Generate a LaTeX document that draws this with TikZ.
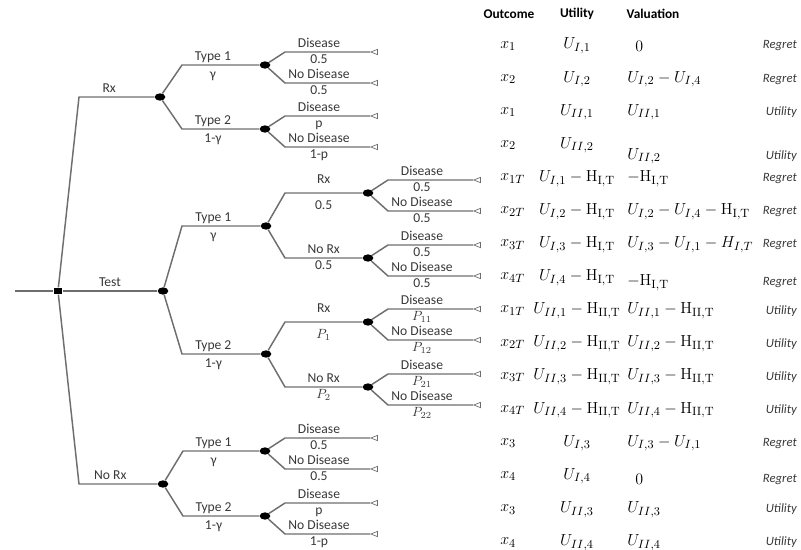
\documentclass[tikz,border=0pt]{standalone}
\usepackage[no-math]{fontspec}
\setmainfont{Carlito}
\usetikzlibrary{shapes.geometric}

\definecolor{branchgray}{HTML}{6E6E6E}
\definecolor{labelgray}{HTML}{383838}
\newcommand{\hcostI}{\mathrm{H}_{\mathrm{I,T}}}
\newcommand{\hcostII}{\mathrm{H}_{\mathrm{II,T}}}

\begin{document}
\begin{tikzpicture}[x=0.75pt,y=-0.75pt,
  br/.style={draw=branchgray,line width=1.1pt},
  chance/.style={ellipse,fill=black,minimum width=8pt,minimum height=5.5pt,inner sep=0pt},
  decision/.style={rectangle,fill=black,minimum width=6.5pt,minimum height=5pt,inner sep=0pt},
  leaf/.style={isosceles triangle,isosceles triangle stretches,shape border rotate=180,
    draw=branchgray,fill=white,line width=0.5pt,minimum height=5pt,minimum width=4pt,
    inner sep=0pt,anchor=apex},
  lab/.style={font=\fontsize{10.2}{12}\selectfont,text=labelgray,inner sep=0.3pt,
    text height=6.8pt,text depth=1.9pt,pos=0.4},
  up/.style={lab,above=0.6pt},
  dn/.style={lab,below=0.6pt},
  head/.style={font=\fontsize{10}{12}\selectfont\bfseries,text=black},
  outc/.style={anchor=west,font=\fontsize{12.6}{15}\selectfont,inner sep=0pt},
  utilc/.style={font=\fontsize{12.6}{15}\selectfont,inner sep=0pt},
  valc/.style={anchor=west,font=\fontsize{12.6}{15}\selectfont,inner sep=0pt},
  kindc/.style={anchor=east,font=\fontsize{9.5}{11}\selectfont\itshape,text=labelgray,inner sep=0pt}]
\useasboundingbox (0,0) rectangle (801,550);

\coordinate (start) at (15,291);
\node[decision] (root) at (58,291) {};
\node[chance] (rx) at (160,97) {};
\node[chance] (test) at (163,291) {};
\node[chance] (norx) at (163,484) {};
\node[chance] (rx1) at (265,65) {};
\node[chance] (rx2) at (265,129) {};
\node[chance] (t1) at (266,226) {};
\node[chance] (t2) at (266,354) {};
\node[chance] (t1a) at (368,193) {};
\node[chance] (t1b) at (368,258) {};
\node[chance] (t2a) at (368,322) {};
\node[chance] (t2b) at (368,387) {};
\node[chance] (n1) at (265,451) {};
\node[chance] (n2) at (265,516) {};

\draw[br] (start) -- (root);
\draw[br] (root) -- ++(21,-194) -- (rx) node[up]{Rx};
\draw[br] (root) -- (test) node[up,pos=0.5]{Test};
\draw[br] (root) -- ++(21,193) -- (norx) node[up]{No Rx};

\draw[br] (rx) -- ++(22,-32) -- (rx1) node[up]{Type 1} node[dn,below=2pt]{γ};
\draw[br] (rx) -- ++(22,32) -- (rx2) node[up]{Type 2} node[dn,below=2pt]{1-γ};
\draw[br] (test) -- ++(19,-65) -- (t1) node[up]{Type 1} node[dn,below=2pt]{γ};
\draw[br] (test) -- ++(19,63) -- (t2) node[up]{Type 2} node[dn,below=2pt]{1-γ};
\draw[br] (norx) -- ++(20,-33) -- (n1) node[up]{Type 1} node[dn,below=2pt]{γ};
\draw[br] (norx) -- ++(20,32) -- (n2) node[up]{Type 2} node[dn,below=2pt]{1-γ};

\draw[br] (t1) -- ++(19,-33) -- (t1a) node[up,above=4pt,pos=0.5]{Rx} node[dn,below=4pt,pos=0.5]{0.5};
\draw[br] (t1) -- ++(19,32) -- (t1b) node[up,pos=0.5]{No Rx} node[dn,pos=0.5]{0.5};
\draw[br] (t2) -- ++(19,-32) -- (t2a) node[up,above=4pt,pos=0.5]{Rx} node[dn,below=4pt,pos=0.5]{$P_1$};
\draw[br] (t2) -- ++(19,33) -- (t2b) node[up,pos=0.5]{No Rx} node[dn,pos=0.5]{$P_2$};

\foreach \p/\la/\lb in {rx1/0.5/0.5, rx2/p/1-p, t1a/0.5/0.5, t1b/0.5/0.5,
    t2a/$P_{11}$/$P_{12}$, t2b/$P_{21}$/$P_{22}$, n1/0.5/0.5, n2/p/1-p}{
  \path (\p) ++(105,-13) node[leaf] (\p-d) {};
  \path (\p) ++(105,18) node[leaf] (\p-n) {};
  \draw[br] (\p) -- ++(20,-13) -- (\p-d) node[up]{Disease} node[dn]{\la};
  \draw[br] (\p) -- ++(20,18) -- (\p-n) node[up]{No Disease} node[dn]{\lb};
}

\node[head] (hout) at (509,14) {Outcome};
\node[head] (hutil) at (577,14) {Utility};
\node[head] (hval) at (653,14) {Valuation};

\foreach \o/\u/\v/\k/\dy [count=\i] in {
  {x_1}/{U_{I,1}}/{\mkern9mu 0}/Regret/0,
  {x_2}/{U_{I,2}}/{U_{I,2}-U_{I,4}}/Regret/0,
  {x_1}/{U_{II,1}}/{U_{II,1}}/Utility/0,
  {x_2}/{U_{II,2}}/{U_{II,2}}/Utility/11,
  {x_{1T}}/{U_{I,1}-\hcostI}/{-\hcostI}/Regret/0,
  {x_{2T}}/{U_{I,2}-\hcostI}/{U_{I,2}-U_{I,4}-\hcostI}/Regret/0,
  {x_{3T}}/{U_{I,3}-\hcostI}/{U_{I,3}-U_{I,1}-H_{I,T}}/Regret/0,
  {x_{4T}}/{U_{I,4}-\hcostI}/{-\hcostI}/Regret/5,
  {x_{1T}}/{U_{II,1}-\hcostII}/{U_{II,1}-\hcostII}/Utility/0,
  {x_{2T}}/{U_{II,2}-\hcostII}/{U_{II,2}-\hcostII}/Utility/0,
  {x_{3T}}/{U_{II,3}-\hcostII}/{U_{II,3}-\hcostII}/Utility/0,
  {x_{4T}}/{U_{II,4}-\hcostII}/{U_{II,4}-\hcostII}/Utility/0,
  {x_3}/{U_{I,3}}/{U_{I,3}-U_{I,1}}/Regret/0,
  {x_4}/{U_{I,4}}/{\mkern9mu 0}/Regret/3,
  {x_3}/{U_{II,3}}/{U_{II,3}}/Utility/0,
  {x_4}/{U_{II,4}}/{U_{II,4}}/Utility/0}{
  \pgfmathsetmacro{\ry}{46+(\i-1)*33.1}
  \node[outc] (out\i) at (500,\ry) {$\o$};
  \node[utilc] (util\i) at (577,\ry) {$\u$};
  \node[valc] (val\i) at (627,\ry+\dy) {$\v$};
  \node[kindc] (kind\i) at (797,\ry+\dy) {\k};
}
\end{tikzpicture}
\end{document}
